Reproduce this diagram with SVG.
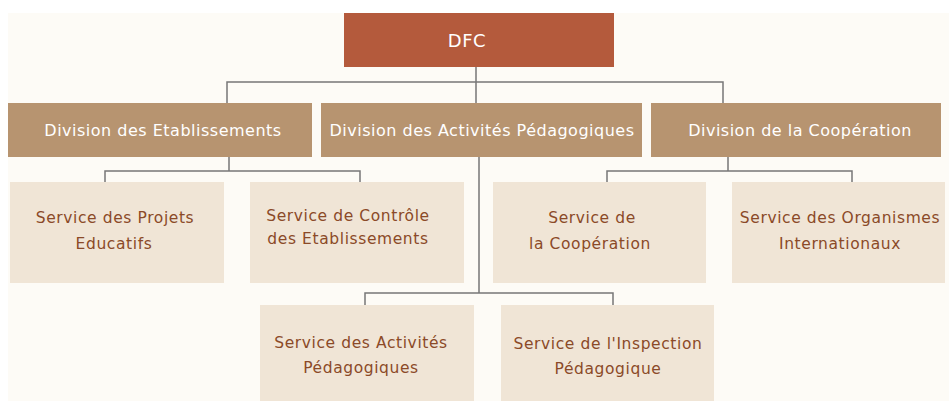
<svg xmlns="http://www.w3.org/2000/svg" width="949" height="401" viewBox="0 0 949 401">
<style>
.top{fill:#b45a3c}
.div{fill:#b79470}
.svc{fill:#f0e5d6}
.tw{fill:#ffffff;font-family:"DejaVu Sans",sans-serif;font-size:16px;letter-spacing:0.5px;text-anchor:middle}
.tb{fill:#8b4a28;font-family:"DejaVu Sans",sans-serif;font-size:15.5px;letter-spacing:0.6px;text-anchor:middle}
.con{fill:none;stroke:#777777;stroke-width:1.5}
</style>
<rect x="0" y="0" width="949" height="401" fill="#ffffff"/>
<rect x="8" y="13" width="941" height="388" fill="#fdfbf6"/>
<g id="connectors" class="con">
<path d="M476 67V103M227 103V82H723V103"/>
<path d="M229 157V171M105 182V171H360V182"/>
<path d="M728 157V171M607 182V171H852V182"/>
<path d="M479 157V293M365 305V293H613V305"/>
</g>
<g id="dfc"><rect class="top" x="344" y="13" width="270" height="54"/><text class="tw" x="467" y="47" style="font-size:18px">DFC</text></g>
<g id="div-etab"><rect class="div" x="8" y="103" width="304" height="54"/><text class="tw" x="163" y="136">Division des Etablissements</text></g>
<g id="div-activ"><rect class="div" x="321" y="103" width="321" height="54"/><text class="tw" x="482" y="136">Division des Activités Pédagogiques</text></g>
<g id="div-coop"><rect class="div" x="651" y="103" width="290" height="54"/><text class="tw" x="800" y="136">Division de la Coopération</text></g>
<g id="svc-projets"><rect class="svc" x="10" y="182" width="214" height="101"/><text class="tb" x="115" y="223">Service des Projets</text><text class="tb" x="114" y="249">Educatifs</text></g>
<g id="svc-controle"><rect class="svc" x="250" y="182" width="214" height="101"/><text class="tb" x="348" y="221">Service de Contrôle</text><text class="tb" x="348" y="244">des Etablissements</text></g>
<g id="svc-coop"><rect class="svc" x="493" y="182" width="213" height="101"/><text class="tb" x="592" y="223">Service de</text><text class="tb" x="590" y="249">la Coopération</text></g>
<g id="svc-org"><rect class="svc" x="732" y="182" width="213" height="101"/><text class="tb" x="840" y="223">Service des Organismes</text><text class="tb" x="840" y="249">Internationaux</text></g>
<g id="svc-activ"><rect class="svc" x="260" y="305" width="214" height="96"/><text class="tb" x="361" y="348">Service des Activités</text><text class="tb" x="361" y="373">Pédagogiques</text></g>
<g id="svc-insp"><rect class="svc" x="501" y="305" width="213" height="96"/><text class="tb" x="608" y="349">Service de l'Inspection</text><text class="tb" x="608" y="374">Pédagogique</text></g>
</svg>
